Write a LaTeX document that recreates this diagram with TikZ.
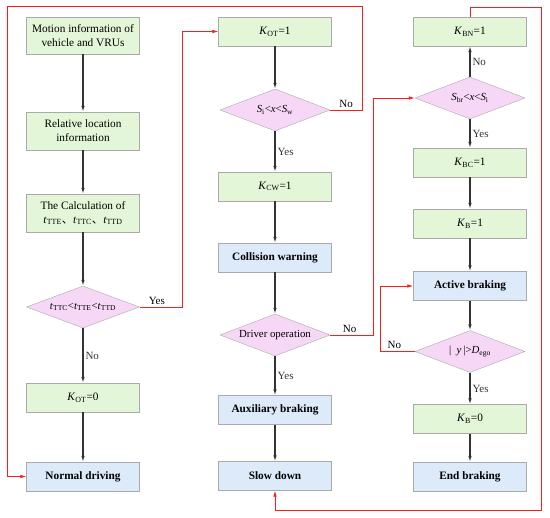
\documentclass[tikz,border=0pt]{standalone}
\usepackage{fontspec}
\setmainfont{Liberation Serif}
\newfontfamily\cjk{Noto Sans CJK SC}
\usetikzlibrary{positioning, arrows.meta, shapes.geometric, calc}

\definecolor{stepgreen}{RGB}{228,246,216}
\definecolor{stepblue}{RGB}{220,234,250}
\definecolor{steppink}{RGB}{246,216,246}
\definecolor{edgegray}{RGB}{170,170,170}
\definecolor{loopred}{RGB}{250,30,30}

\newcommand{\vk}[1]{\textit{K}\textsubscript{#1}}
\newcommand{\vt}[1]{\textit{t}\textsubscript{#1}}
\newcommand{\vs}[1]{\textit{S}\textsubscript{#1}}
\newcommand{\dun}{{\cjk 、}}

\begin{document}
\begin{tikzpicture}[
  x=1pt, y=-1pt,
  state/.style={draw=edgegray, fill=stepgreen, minimum width=113pt, minimum height=29pt,
                align=center, inner sep=1pt, font=\fontsize{11.3}{14}\selectfont},
  action/.style={draw=edgegray, fill=stepblue, minimum width=113pt, minimum height=29pt,
                 align=center, inner sep=1pt, font=\fontsize{11.3}{14}\selectfont\bfseries},
  check/.style={diamond, draw=edgegray, fill=steppink, aspect=2.6, inner sep=0pt,
                minimum width=110pt, minimum height=42pt, font=\fontsize{10.8}{13}\selectfont},
  arr/.style={-{Latex[length=6pt, width=3.6pt]}, line width=1.1pt, color=black!80},
  redarr/.style={-{Latex[length=6pt, width=3.6pt]}, line width=0.8pt, color=loopred},
  lbl/.style={font=\fontsize{11}{13}\selectfont, inner sep=2pt}
]
\useasboundingbox (0,0) rectangle (550,518);

% Column 1
\node[state, minimum height=37pt] (info) at (83,35.5) {Motion information of\\vehicle and VRUs};
\node[state, minimum height=38pt] (loc) at (83,131) {Relative location\\information};
\node[state, minimum height=38pt] (calc) at (83,213) {The Calculation of\\\vt{TTE}\dun\vt{TTC}\dun\vt{TTD}};
\node[check, minimum width=113pt] (dtime) at (83,307) {\vt{TTC}<\vt{TTE}<\vt{TTD}};
\node[state] (kot0) at (83,397.5) {\vk{OT}=0};
\node[action] (normal) at (83,476.5) {Normal driving};

% Column 2
\node[state] (kot1) at (275,31.5) {\vk{OT}=1};
\node[check] (dwarn) at (275,110) {\vs{i}<\textit{x}<\vs{w}};
\node[state] (kcw) at (275,186.5) {\vk{CW}=1};
\node[action] (warn) at (275,257.5) {Collision warning};
\node[check] (ddrv) at (275,335) {Driver operation};
\node[action] (aux) at (275,410) {Auxiliary braking};
\node[action] (slow) at (275,476) {Slow down};

% Column 3
\node[state] (kbn) at (470,31.5) {\vk{BN}=1};
\node[check] (dbrk) at (470,98) {\vs{br}<\textit{x}<\vs{i}};
\node[state] (kbc) at (470,162.5) {\vk{BC}=1};
\node[state] (kb1) at (470,223.5) {\vk{B}=1};
\node[action] (active) at (470,286) {Active braking};
\node[check] (dlat) at (470,351.5) {|\enspace\textit{y}\,|>\textit{D}\textsubscript{ego}};
\node[state] (kb0) at (470,419) {\vk{B}=0};
\node[action] (endb) at (470,476.5) {End braking};

% Main flow
\draw[arr] (info) -- (loc);
\draw[arr] (loc) -- (calc);
\draw[arr] (calc) -- (dtime);
\draw[arr] (dtime) -- node[lbl, right, pos=0.5] {No} (kot0);
\draw[arr] (kot0) -- (normal);

\draw[arr] (kot1) -- (dwarn);
\draw[arr] (dwarn) -- node[lbl, right] {Yes} (kcw);
\draw[arr] (kcw) -- (warn);
\draw[arr] (warn) -- (ddrv);
\draw[arr] (ddrv) -- node[lbl, right] {Yes} (aux);
\draw[arr] (aux) -- (slow);

\draw[arr] (dbrk) -- node[lbl, right] {No} (kbn);
\draw[arr] (dbrk) -- node[lbl, right] {Yes} (kbc);
\draw[arr] (kbc) -- (kb1);
\draw[arr] (kb1) -- (active);
\draw[arr] (active) -- (dlat);
\draw[arr] (dlat) -- node[lbl, right] {Yes} (kb0);
\draw[arr] (kb0) -- (endb);

% Feedback loops
\coordinate (topR) at (362,6);
\coordinate (topL) at (7,6);
\coordinate (brkR) at (541,7);
\coordinate (brkB) at (541,510);

\draw[redarr] (dtime.east) -- node[lbl, above, pos=0.4, text=black] {Yes} ++(43,0) |- (kot1.west);
\draw[redarr] (dwarn.east) -| node[lbl, above, pos=0.25, text=black] {No} (topR) -- (topL) |- (normal.west);
\draw[redarr] (ddrv.east) -- node[lbl, above, pos=0.45, text=black] {No} ++(43,0) |- (dbrk.west);
\draw[redarr] (kbn.north) |- (brkR) -- (brkB) -| (slow.south);
\draw[redarr] (dlat.west) -- node[lbl, above, pos=0.6, text=black] {No} ++(-34,0) |- (active.west);

\end{tikzpicture}
\end{document}
